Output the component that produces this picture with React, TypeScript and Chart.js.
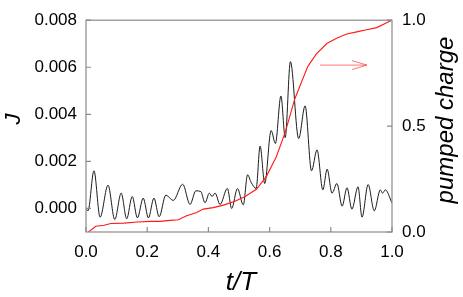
import React, { useEffect, useRef } from "react";
import { Chart, registerables } from "chart.js";

Chart.register(...registerables);

// ---- Data ----
const tJ = [
  0.0, 0.0065, 0.026, 0.046, 0.072, 0.094, 0.115, 0.133, 0.151, 0.168, 0.187, 0.204,
  0.222, 0.239, 0.261, 0.285, 0.316, 0.34, 0.359, 0.375, 0.389, 0.403, 0.412, 0.422,
  0.438, 0.462, 0.476, 0.495, 0.514, 0.528, 0.54, 0.556, 0.569, 0.584, 0.605, 0.619,
  0.637, 0.651, 0.668, 0.695, 0.716, 0.737, 0.755, 0.774, 0.788, 0.804, 0.82, 0.837,
  0.853, 0.869, 0.889, 0.902, 0.922, 0.942, 0.962, 0.969, 0.978, 1.0,
];
const J = [
  0.0, -0.0001, 0.0016, -0.00037, 0.00099, -0.00047, 0.00065, -0.00044, 0.00051, -0.0004,
  0.00044, -0.0004, 0.00044, -0.00035, 0.00057, 0.00034, 0.00103, 0.00017, 0.00075, 0.00072,
  0.00024, 0.00065, 0.00051, 0.00065, 0.00017, 0.00085, 0.0, 0.00085, 0.00015, 0.00143,
  0.0011, 0.00085, 0.00265, 0.00106, 0.00331, 0.00276, 0.00478, 0.00301, 0.00624, 0.00297,
  0.00436, 0.0016, 0.00249, 0.00079, 0.00167, 0.00065, 0.00106, 0.0001, 0.00088, -0.00003,
  0.00092, -0.00037, 0.00102, -0.0001, 0.00079, 0.00065, 0.00079, 0.00024,
];
const tQ = [
  0.008, 0.032, 0.059, 0.081, 0.124, 0.168, 0.211, 0.242, 0.275, 0.302, 0.329, 0.362,
  0.383, 0.416, 0.449, 0.487, 0.52, 0.558, 0.59, 0.622, 0.652, 0.682, 0.704, 0.725,
  0.753, 0.787, 0.819, 0.852, 0.885, 0.917, 0.95, 1.0,
];
const Q = [
  0.0, 0.027, 0.032, 0.04, 0.042, 0.047, 0.05, 0.05, 0.055, 0.058, 0.077, 0.092,
  0.108, 0.115, 0.127, 0.145, 0.168, 0.203, 0.264, 0.355, 0.475, 0.627, 0.707, 0.782,
  0.841, 0.89, 0.915, 0.935, 0.945, 0.955, 0.965, 1.0,
];
const xTicks = [0, 0.2, 0.4, 0.6, 0.8, 1.0];
const yTicks = [0, 0.002, 0.004, 0.006, 0.008];
const y1Ticks = [0, 0.5, 1.0];
const xTitle = "t/T";
const yTitle = "J";
const y1Title = "pumped charge";
const arrowT = [0.765, 0.918];
const arrowQ = 0.788;

const FONT = "'Liberation Sans', Arial, Helvetica, sans-serif";
const BOX = "#8a8a8a";

const decorPlugin = {
  id: "decor",
  afterDraw(chart: any) {
    const { ctx, chartArea: a, scales } = chart;
    const x = scales.x, y = scales.y, y1 = scales.y1;
    ctx.save();
    // box
    ctx.strokeStyle = BOX;
    ctx.lineWidth = 1.2;
    ctx.strokeRect(a.left, a.top, a.right - a.left, a.bottom - a.top);
    // inward tick marks
    ctx.beginPath();
    xTicks.forEach((v) => {
      const px = x.getPixelForValue(v);
      ctx.moveTo(px, a.bottom);
      ctx.lineTo(px, a.bottom - 5);
    });
    yTicks.forEach((v) => {
      const py = y.getPixelForValue(v);
      ctx.moveTo(a.left, py);
      ctx.lineTo(a.left + 5, py);
    });
    y1Ticks.forEach((v) => {
      const py = y1.getPixelForValue(v);
      ctx.moveTo(a.right, py);
      ctx.lineTo(a.right - 5, py);
    });
    ctx.stroke();

    // arrow pointing to right axis
    const ax0 = x.getPixelForValue(arrowT[0]);
    const ax1 = x.getPixelForValue(arrowT[1]);
    const ay = y1.getPixelForValue(arrowQ);
    ctx.strokeStyle = "rgba(255,70,70,0.75)";
    ctx.lineWidth = 1;
    ctx.beginPath();
    ctx.moveTo(ax0, ay);
    ctx.lineTo(ax1, ay);
    ctx.moveTo(ax1 - 15, ay - 4.5);
    ctx.lineTo(ax1, ay);
    ctx.lineTo(ax1 - 15, ay + 4.5);
    ctx.stroke();

    // axis titles
    ctx.fillStyle = "#000";
    ctx.textAlign = "center";
    ctx.textBaseline = "alphabetic";
    ctx.font = `italic 26px ${FONT}`;
    ctx.fillText(xTitle, (a.left + a.right) / 2 + 2, 290);

    ctx.font = `italic 22px ${FONT}`;
    ctx.save();
    ctx.translate(20, 119);
    ctx.rotate(-Math.PI / 2);
    ctx.fillText(yTitle, 0, 0);
    ctx.restore();

    ctx.font = `italic 24px ${FONT}`;
    ctx.save();
    ctx.translate(453, 120);
    ctx.rotate(-Math.PI / 2);
    ctx.fillText(y1Title, 0, 0);
    ctx.restore();

    ctx.restore();
  },
};

export default function App() {
  const ref = useRef<HTMLCanvasElement | null>(null);

  useEffect(() => {
    if (!ref.current) return;
    const tickFont = { family: FONT, size: 17 };
    const chart = new Chart(ref.current, {
      type: "line",
      data: {
        datasets: [
          {
            label: "pumped charge",
            data: tQ.map((t, i) => ({ x: t, y: Q[i] })),
            yAxisID: "y1",
            borderColor: "rgb(255,25,25)",
            borderWidth: 1.1,
            pointRadius: 0,
            tension: 0,
            fill: false,
          },
          {
            label: "J",
            data: tJ.map((t, i) => ({ x: t, y: J[i] })),
            yAxisID: "y",
            borderColor: "#1c1c1c",
            borderWidth: 1,
            pointRadius: 0,
            cubicInterpolationMode: "monotone",
            fill: false,
          },
        ],
      },
      options: {
        responsive: false,
        animation: false,
        events: [],
        layout: { padding: { top: 12, left: 0, right: 0, bottom: 0 } },
        plugins: { legend: { display: false }, tooltip: { enabled: false } },
        scales: {
          x: {
            type: "linear",
            min: 0,
            max: 1,
            afterBuildTicks: (s: any) => {
              s.ticks = xTicks.map((v) => ({ value: v }));
            },
            afterFit: (s: any) => {
              s.height = 65;
            },
            ticks: {
              callback: (v: any) => Number(v).toFixed(1),
              font: tickFont,
              color: "#000",
              padding: 10,
              maxRotation: 0,
              autoSkip: false,
            },
            grid: { display: false, drawTicks: false },
            border: { display: false },
          },
          y: {
            type: "linear",
            position: "left",
            min: -0.001,
            max: 0.008,
            afterBuildTicks: (s: any) => {
              s.ticks = yTicks.map((v) => ({ value: v }));
            },
            afterFit: (s: any) => {
              s.width = 86;
            },
            ticks: {
              callback: (v: any) => Number(v).toFixed(3),
              font: tickFont,
              color: "#000",
              padding: 9,
              autoSkip: false,
            },
            grid: { display: false, drawTicks: false },
            border: { display: false },
          },
          y1: {
            type: "linear",
            position: "right",
            min: 0,
            max: 1,
            afterBuildTicks: (s: any) => {
              s.ticks = y1Ticks.map((v) => ({ value: v }));
            },
            afterFit: (s: any) => {
              s.width = 71;
            },
            ticks: {
              callback: (v: any) => Number(v).toFixed(1),
              font: tickFont,
              color: "#000",
              padding: 10,
              autoSkip: false,
            },
            grid: { display: false, drawTicks: false },
            border: { display: false },
          },
        },
      },
      plugins: [decorPlugin],
    } as any);
    return () => chart.destroy();
  }, []);

  return (
    <div style={{ position: "fixed", left: 0, top: 0, width: 463, height: 297, background: "#fff" }}>
      <canvas ref={ref} width={463} height={297} style={{ width: 463, height: 297 }} />
    </div>
  );
}
